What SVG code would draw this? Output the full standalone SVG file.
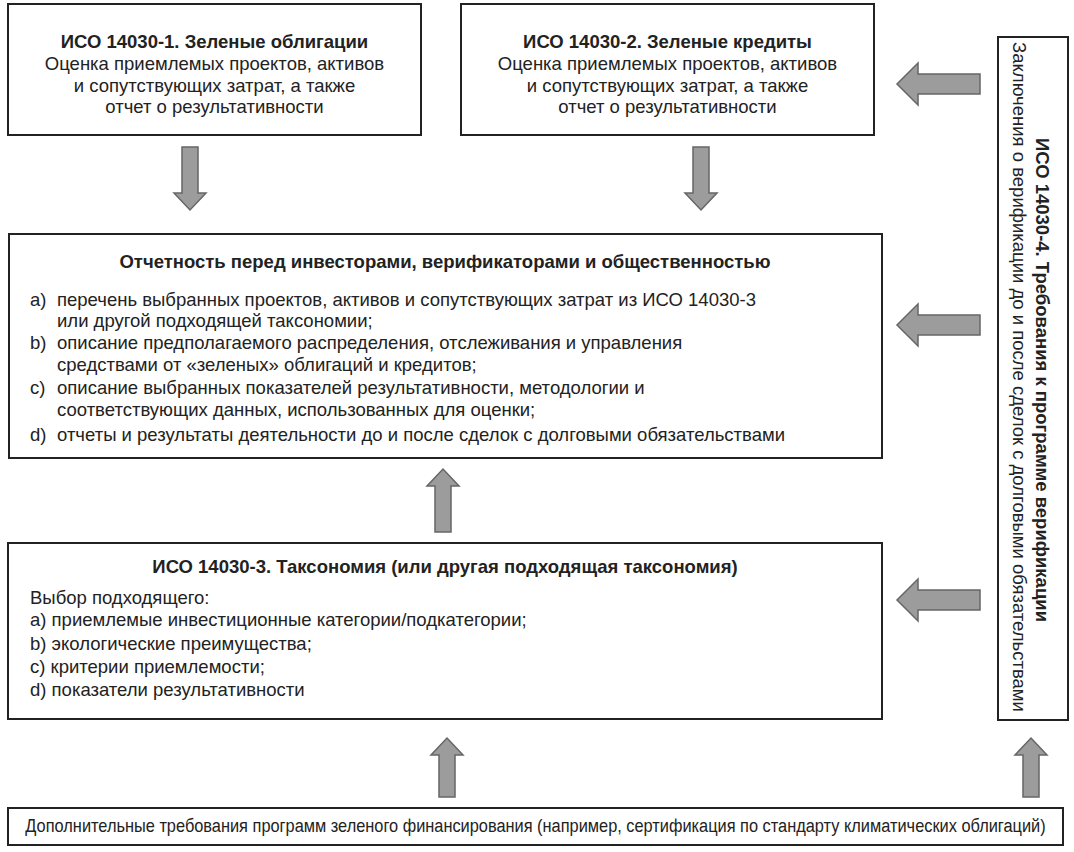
<svg xmlns="http://www.w3.org/2000/svg" width="1074" height="852" viewBox="0 0 1074 852">
<style>
.box{fill:#fff;stroke:#222;stroke-width:2}
.arr{fill:#9c9c9c;stroke:#666;stroke-width:1.5;stroke-linejoin:miter}
text{font-family:"Liberation Sans",Arial,sans-serif;fill:#222;font-size:18.5px}
.b{font-weight:bold}
.c{text-anchor:middle}
</style>
<rect width="1074" height="852" fill="#fff"/>
<g id="iso1">
<rect class="box" x="8" y="4" width="413" height="131"/>
<text class="b c" x="214.5" y="48">ИСО 14030-1. Зеленые облигации</text>
<text class="c" x="214.5" y="70">Оценка приемлемых проектов, активов</text>
<text class="c" x="214.5" y="92">и сопутствующих затрат, а также</text>
<text class="c" x="214.5" y="113">отчет о результативности</text>
</g>
<g id="iso2">
<rect class="box" x="461" y="4" width="413" height="131"/>
<text class="b c" x="667.5" y="48">ИСО 14030-2. Зеленые кредиты</text>
<text class="c" x="667.5" y="70">Оценка приемлемых проектов, активов</text>
<text class="c" x="667.5" y="92">и сопутствующих затрат, а также</text>
<text class="c" x="667.5" y="113">отчет о результативности</text>
</g>
<g id="reporting">
<rect class="box" x="9" y="234" width="873" height="224"/>
<text class="b c" x="445" y="268">Отчетность перед инвесторами, верификаторами и общественностью</text>
<text x="30" y="306">a)</text>
<text x="57" y="306">перечень выбранных проектов, активов и сопутствующих затрат из ИСО 14030-3</text>
<text x="57" y="327">или другой подходящей таксономии;</text>
<text x="30" y="349">b)</text>
<text x="57" y="349">описание предполагаемого распределения, отслеживания и управления</text>
<text x="57" y="371">средствами от «зеленых» облигаций и кредитов;</text>
<text x="30" y="394">c)</text>
<text x="57" y="394">описание выбранных показателей результативности, методологии и</text>
<text x="57" y="416">соответствующих данных, использованных для оценки;</text>
<text x="30" y="441">d)</text>
<text x="57" y="441">отчеты и результаты деятельности до и после сделок с долговыми обязательствами</text>
</g>
<g id="taxonomy">
<rect class="box" x="8" y="543" width="874" height="176"/>
<text class="b c" x="445" y="573">ИСО 14030-3. Таксономия (или другая подходящая таксономия)</text>
<text x="30" y="604">Выбор подходящего:</text>
<text x="30" y="626">a) приемлемые инвестиционные категории/подкатегории;</text>
<text x="30" y="650">b) экологические преимущества;</text>
<text x="30" y="673">c) критерии приемлемости;</text>
<text x="30" y="696">d) показатели результативности</text>
</g>
<g id="iso4">
<rect class="box" x="998" y="37" width="70" height="683"/>
<text class="b c" transform="translate(1036,380) rotate(90)">ИСО 14030-4. Требования к программе верификации</text>
<text class="c" transform="translate(1013,377) rotate(90)">Заключения о верификации до и после сделок с долговыми обязательствами</text>
</g>
<g id="additional">
<rect class="box" x="8" y="808" width="1055" height="37"/>
<text class="c" transform="translate(535.5,832) scale(0.885,1)" font-size="16.2">Дополнительные требования программ зеленого финансирования (например, сертификация по стандарту климатических облигаций)</text>
</g>
<g id="connectors">
<path class="arr" d="M182,147 H198 V193 H206 L190,210 L174,193 H182 Z"/>
<path class="arr" d="M693,147 H709 V193 H717 L701,210 L685,193 H693 Z"/>
<path class="arr" d="M435,532 H451 V486 H459 L443,469 L427,486 H435 Z"/>
<path class="arr" d="M439,797 H455 V755 H463 L447,738 L431,755 H439 Z"/>
<path class="arr" d="M1023,797 H1039 V755 H1047 L1031,738 L1015,755 H1023 Z"/>
<path class="arr" d="M980,74 V94 H918 V105 L897,84 L918,63 V74 Z"/>
<path class="arr" d="M980,315 V335 H918 V346 L897,325 L918,304 V315 Z"/>
<path class="arr" d="M980,590 V610 H918 V621 L897,600 L918,579 V590 Z"/>
</g>
</svg>
